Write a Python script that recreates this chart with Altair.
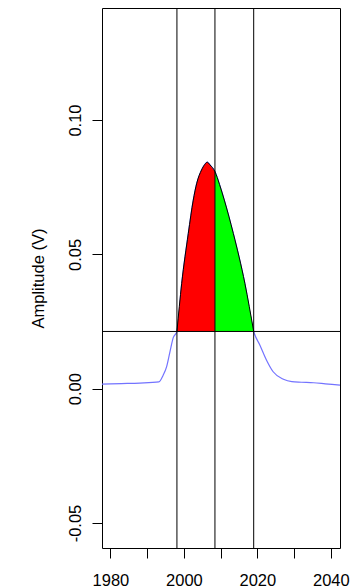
import altair as alt
import pandas as pd

# Curve
years = [1977.7, 1983.0, 1988.0, 1993.2, 1994.35, 1995.3, 1996.2, 1997.1, 1998.1,
         1999.4, 2001.2, 2002.55, 2003.5, 2004.8, 2005.7, 2006.35, 2007.1, 2008.45,
         2009.7, 2011.0, 2013.45, 2016.6, 2019.0, 2020.7, 2022.5, 2024.3, 2027.1,
         2029.4, 2032.0, 2035.3, 2038.5, 2042.5]
amps = [0.0017, 0.0019, 0.0021, 0.0025, 0.0050, 0.0082, 0.0137, 0.0190, 0.0213,
        0.0392, 0.0578, 0.0702, 0.0765, 0.0814, 0.0835, 0.0843, 0.0833, 0.0808,
        0.0760, 0.0702, 0.0578, 0.0392, 0.0213, 0.0162, 0.0106, 0.0063, 0.0035,
        0.0026, 0.0024, 0.0022, 0.0018, 0.0013]

cut_years = [1998.1, 2008.45, 2019.0]
threshold = 0.0213
x_ticks = [1980, 1990, 2000, 2010, 2020, 2030, 2040]
y_ticks = [-0.05, 0.0, 0.05, 0.10]
x_domain = [1977.7, 2042.5]
y_domain = [-0.0593, 0.1417]

df = pd.DataFrame({"year": years, "amp": amps})
df["thr"] = threshold
vdf = pd.DataFrame({"year": cut_years})
hdf = pd.DataFrame({"amp": [threshold]})

FONT = "Liberation Sans"
FS = 16.5

xscale = alt.Scale(domain=x_domain, nice=False, zero=False)
yscale = alt.Scale(domain=y_domain, nice=False, zero=False)

xaxis = alt.Axis(values=x_ticks, format="d", title=None,
                 labelExpr="datum.value % 20 == 0 ? datum.label : ''",
                 labelOverlap=False, labelFlush=False,
                 labelBaseline="alphabetic", labelPadding=27)
yaxis = alt.Axis(values=y_ticks, title="Amplitude (V)",
                 labelExpr="datum.value < 0 ? '-' + format(-datum.value, '.2f') : format(datum.value, '.2f')",
                 labelAngle=270, labelAlign="center", labelBaseline="alphabetic",
                 labelPadding=12, labelOverlap=False, labelFlush=False,
                 titleAngle=270, titleAlign="center", titleBaseline="alphabetic",
                 titleX=-59, titleY=270)

X = alt.X("year:Q", scale=xscale, axis=xaxis)
Y = alt.Y("amp:Q", scale=yscale, axis=yaxis)

base = alt.Chart(df)

blue = base.mark_line(color="#7373ff", strokeWidth=1.2, clip=True,
                      interpolate="monotone").encode(x=X, y=Y)

red = base.transform_filter(
    (alt.datum.year >= cut_years[0]) & (alt.datum.year <= cut_years[1])
).mark_area(color="#ff0000", opacity=1, clip=True,
            interpolate="monotone").encode(x=X, y=Y, y2="thr:Q")

green = base.transform_filter(
    (alt.datum.year >= cut_years[1]) & (alt.datum.year <= cut_years[2])
).mark_area(color="#00ff00", opacity=1, clip=True,
            interpolate="monotone").encode(x=X, y=Y, y2="thr:Q")

border = base.transform_filter(
    (alt.datum.year >= cut_years[0]) & (alt.datum.year <= cut_years[2])
).mark_line(color="black", strokeWidth=1, clip=True,
            interpolate="monotone").encode(x=X, y=Y)

vrules = alt.Chart(vdf).mark_rule(color="black", strokeWidth=1).encode(x=X)
hrule = alt.Chart(hdf).mark_rule(color="black", strokeWidth=1).encode(y=Y)

chart = alt.layer(blue, red, green, border, vrules, hrule).properties(
    width=238, height=540,
    autosize=alt.AutoSizeParams(type="none"),
    padding={"left": 102, "top": 8, "right": 17, "bottom": 39},
    background="white",
).configure_view(
    stroke="black", strokeWidth=1
).configure_axis(
    domain=False, grid=False, ticks=True, tickColor="black", tickSize=10, tickWidth=1,
    labelFont=FONT, labelFontSize=FS, labelColor="black",
    titleFont=FONT, titleFontSize=FS, titleColor="black", titleFontWeight="normal",
)

chart.save("out.html", embed_options={"renderer": "svg", "actions": False})
